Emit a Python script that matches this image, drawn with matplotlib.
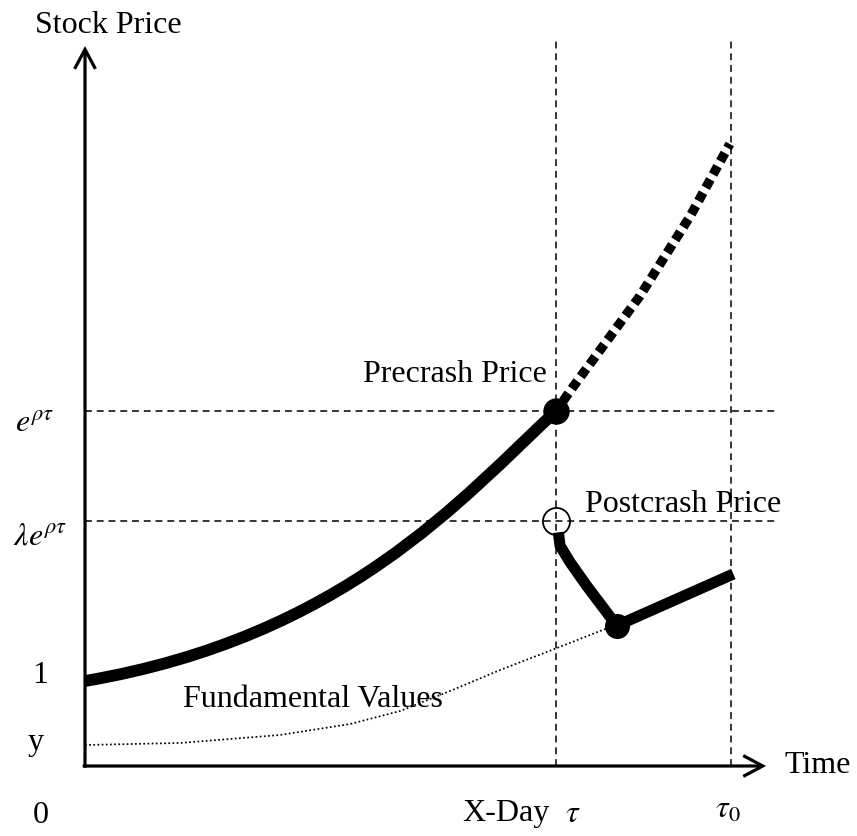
import matplotlib.pyplot as plt
from matplotlib.patches import FancyArrowPatch, PathPatch
from matplotlib.path import Path

plt.rcParams['font.family'] = ['Liberation Serif', 'DejaVu Serif']
plt.rcParams['mathtext.fontset'] = 'stix'

# reference levels (time: tau = 1, price: 1 = start of the bubble path)
tau = 1.0
tau0 = 1.372
p_pre = 4.176      # e^{rho tau}
p_post = 2.882     # lambda e^{rho tau}
p_fund0 = 0.247    # y

# price path before the crash, as bezier control points (start, c1, c2, end)
t_rise = [0.0, 0.55, 0.80, 1.0]
p_rise = [1.0, 1.52, 3.15, 4.176]

# path if there is no crash (dotted)
t_nocrash = [1.0, 1.036, 1.178, 1.285, 1.369]
p_nocrash = [4.176, 4.459, 5.529, 6.471, 7.318]

# path after the crash
t_after = [1.005, 1.0085, 1.030, 1.065, 1.129, 1.3765]
p_after = [2.749, 2.592, 2.396, 2.121, 1.651, 2.259]

# fundamental values
t_fund = [0.0, 0.202, 0.414, 0.563, 0.669, 0.775, 0.881, 1.002, 1.115]
p_fund = [0.247, 0.271, 0.365, 0.494, 0.647, 0.882, 1.129, 1.388, 1.635]

fig = plt.figure(figsize=(8.57, 8.37), dpi=100)
ax = fig.add_axes([0, 0, 1, 1])
ax.set_xlim(-0.1805, 1.639)
ax.set_ylim(-0.8235, 9.0235)
ax.axis('off')

# guide lines
dash = (0, (4.5, 3.2))
for lev in [p_pre, p_post]:
    ax.plot([0, 1.471], [lev, lev], color='k', lw=1.1, linestyle=dash, zorder=1)
for tt in [tau, tau0]:
    ax.plot([tt, tt], [0, 8.53], color='k', lw=1.1, linestyle=dash, zorder=1)

# axes with arrows
for start, end in [((0, -0.02), (0, 8.47)), ((-0.005, 0), (1.446, 0))]:
    arr = FancyArrowPatch(start, end, arrowstyle='->,head_length=14,head_width=7.5',
                          mutation_scale=1, lw=2.3, color='k', shrinkA=0, shrinkB=0,
                          joinstyle='miter', capstyle='butt', zorder=3)
    ax.add_patch(arr)

# curves
ax.plot(t_fund, p_fund, color='k', lw=1.25, linestyle=(0, (1, 1.4)), zorder=2)

rise = Path(list(zip(t_rise, p_rise)), [Path.MOVETO, Path.CURVE4, Path.CURVE4, Path.CURVE4])
ax.add_patch(PathPatch(rise, fill=False, edgecolor='k', lw=8.5, capstyle='butt', zorder=4))

ax.plot(t_nocrash, p_nocrash, color='k', lw=6.8, linestyle=(0.3, (1, 0.6)),
        dash_capstyle='butt', zorder=4)
ax.plot(t_after, p_after, color='k', lw=8, solid_capstyle='butt', solid_joinstyle='round', zorder=4)

# markers
ax.plot([tau], [p_pre], 'o', color='k', ms=18, zorder=5)
ax.plot([t_after[4]], [p_after[4]], 'o', color='k', ms=17, zorder=5)
ax.plot([tau], [p_post], 'o', mfc='none', mec='k', mew=1.3, ms=19.5, zorder=5)

fs = 23
ax.text(-0.106, 8.635, 'Stock Price', fontsize=fs, ha='left', va='baseline')
ax.text(-0.149, 3.941, r'$e^{\rho\tau}$', fontsize=fs, ha='left', va='baseline')
ax.text(-0.153, 2.612, r'$\lambda e^{\rho\tau}$', fontsize=fs, ha='left', va='baseline')
ax.text(-0.1125, 0.988, '1', fontsize=fs, ha='left', va='baseline')
ax.text(-0.121, 0.2, 'y', fontsize=fs, ha='left', va='baseline')
ax.text(-0.11, -0.659, '0', fontsize=fs, ha='left', va='baseline')
ax.text(0.800, -0.635, 'X-Day', fontsize=fs, ha='left', va='baseline')
ax.text(1.019, -0.65, r'$\tau$', fontsize=fs, ha='left', va='baseline')
ax.text(1.338, -0.6, r'$\tau_0$', fontsize=fs, ha='left', va='baseline')
ax.text(1.486, -0.07, 'Time', fontsize=fs, ha='left', va='baseline')
ax.text(0.590, 4.53, 'Precrash Price', fontsize=fs, ha='left', va='baseline')
ax.text(1.062, 3.0, 'Postcrash Price', fontsize=fs, ha='left', va='baseline')
ax.text(0.208, 0.706, 'Fundamental Values', fontsize=fs, ha='left', va='baseline')

fig.savefig('out.png', dpi=100)
